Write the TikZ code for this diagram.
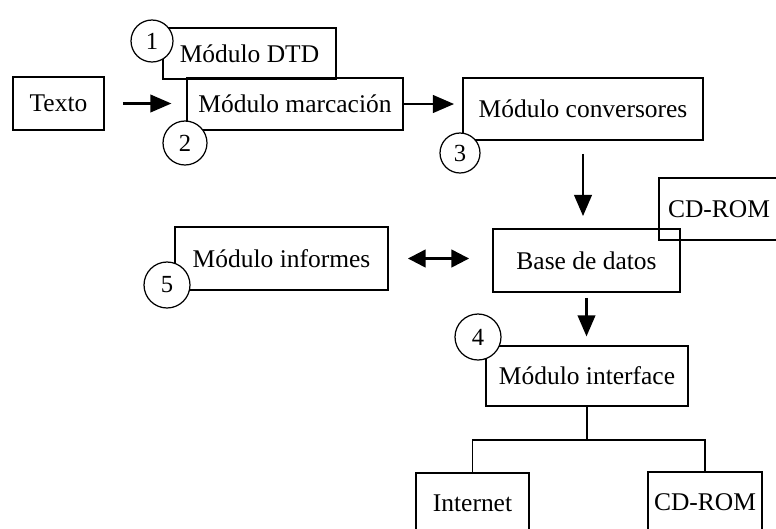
\documentclass[tikz,border=0pt]{standalone}
\usepackage{fontspec}
\setmainfont{Liberation Serif}
\usetikzlibrary{arrows.meta,positioning}

\tikzset{
  caja/.style={draw, rectangle, inner sep=2pt, line width=0.7pt, font=\fontsize{14.5}{17}\selectfont},
  cajagruesa/.style={caja, line width=1.1pt},
  numero/.style={draw, circle, fill=white, inner sep=0pt, line width=0.7pt, font=\fontsize{14}{16}\selectfont},
  flecha/.style={-{Triangle[length=12pt,width=10pt]}, line width=1.3pt},
  dobleflecha/.style={{Triangle[length=10pt,width=10pt]}-{Triangle[length=10pt,width=10pt]}, line width=1.3pt},
}

\begin{document}
\begin{tikzpicture}[x=0.02cm, y=-0.02cm]
    \useasboundingbox (0,0) rectangle (776,528);
    \clip (0,0) rectangle (776,528);

    % Nodos principales
    \node (texto) [cajagruesa, minimum width=1.82cm, minimum height=1.06cm] at (58.5,103.5) {Texto};
    \node (dtd) [caja, minimum width=3.46cm, minimum height=1.02cm] at (249.5,53.5) {Módulo DTD};
    \node (marcacion) [caja, minimum width=4.32cm, minimum height=1.04cm] at (295,104) {Módulo marcación};
    \node (conversores) [cajagruesa, minimum width=4.80cm, minimum height=1.24cm] at (583,109) {Módulo conversores};
    \node (cdromsup) [caja, minimum width=2.40cm, minimum height=1.24cm] at (719,209) {CD-ROM};
    \node (base) [cajagruesa, minimum width=3.74cm, minimum height=1.26cm] at (586.5,260.5) {Base de datos};
    \node (informes) [cajagruesa, minimum width=4.26cm, minimum height=1.26cm] at (281.5,258.5) {Módulo informes};
    \node (interface) [caja, minimum width=4.04cm, minimum height=1.20cm] at (587,376) {Módulo interface};
    \node (internet) [caja, minimum width=2.26cm, minimum height=1.20cm] at (472.5,503) {Internet};
    \node (cdrominf) [caja, minimum width=2.28cm, minimum height=1.20cm] at (705,502) {CD-ROM};

    % Numeros de los modulos
    \node (n1) [numero, minimum size=0.84cm] at (152,41) {1};
    \node (n2) [numero, minimum size=0.88cm] at (185,143) {2};
    \node (n3) [numero, minimum size=0.80cm] at (460,153) {3};
    \node (n4) [numero, minimum size=0.92cm] at (478,337) {4};
    \node (n5) [numero, minimum size=0.92cm] at (167,285) {5};

    % Flechas de conexión
    \draw[flecha, shorten <=0.36cm, shorten >=0.30cm] (texto.east) -- (texto.east -| marcacion.west);
    \draw[flecha, shorten >=0.16cm] (marcacion.east) -- (marcacion.east -| conversores.west);
    \draw[flecha, shorten <=0.26cm, shorten >=0.24cm] (conversores.south) -- (base.north -| conversores.south);
    \draw[dobleflecha, shorten <=0.38cm, shorten >=0.46cm] (informes.east) -- (informes.east -| base.west);
    \draw[flecha, shorten <=0.10cm, shorten >=0.18cm] (base.south) -- (interface.north -| base.south);

    % Ramas de salida
    \coordinate (rama) at (587,440);
    \draw[line width=0.7pt] (interface.south) -- (rama);
    \draw[line width=0.7pt] (rama) -| (internet.north);
    \draw[line width=0.7pt] (rama) -| (cdrominf.north);
\end{tikzpicture}
\end{document}
